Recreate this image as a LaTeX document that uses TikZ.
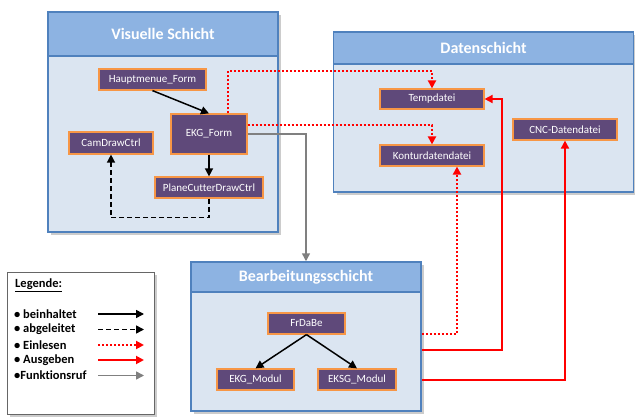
\documentclass[tikz,border=0pt]{standalone}
\usepackage{fontspec}
\setmainfont{Carlito}[Ligatures=NoCommon]
\usetikzlibrary{arrows.meta,shadows,calc}
\definecolor{hdr}{HTML}{8DB3E2}
\definecolor{bodyc}{HTML}{DBE5F1}
\definecolor{brd}{HTML}{4F81BD}
\definecolor{purp}{HTML}{5F497A}
\definecolor{orng}{HTML}{F79646}
\definecolor{redc}{HTML}{FF0000}
\definecolor{grayc}{HTML}{808080}
\tikzset{
  layer/.style={draw=brd, line width=1.5pt, fill=bodyc, inner sep=0pt,
    drop shadow={shadow xshift=3pt, shadow yshift=-3pt, fill=black!40, opacity=0.5}},
  header/.style={draw=brd, line width=1.5pt, fill=hdr, inner sep=0pt, text=white,
    font=\fontsize{16}{18}\selectfont\bfseries},
  comp/.style={draw=orng, line width=1.2pt, fill=purp, text=white, inner sep=0pt,
    font=\fontsize{11}{13}\selectfont},
  tip/.style={-{Triangle[length=8pt,width=8pt]}},
  contains/.style={tip, line width=1.5pt, black},
  derived/.style={tip, line width=1.5pt, black, dash pattern=on 5pt off 3pt},
  readin/.style={tip, line width=2pt, redc, dash pattern=on 2pt off 2pt},
  output/.style={tip, line width=1.8pt, redc},
  call/.style={tip, line width=1.5pt, grayc},
  legtext/.style={anchor=west, font=\fontsize{12.5}{14}\selectfont\bfseries, inner sep=0pt},
}
\begin{document}
\begin{tikzpicture}[x=1pt,y=-1pt]
\useasboundingbox (0,0) rectangle (635,417);
% Layers
\node[layer, minimum width=230pt, minimum height=220pt] (vis) at (163,122) {};
\node[header, minimum width=230pt, minimum height=44pt] (vish) at (163,34) {Visuelle Schicht};
\node[layer, minimum width=300pt, minimum height=160pt] (dat) at (483.5,112) {};
\node[header, minimum width=300pt, minimum height=32pt] (dath) at (483.5,48) {Datenschicht};
\node[layer, minimum width=230pt, minimum height=149pt] (bearb) at (306,336.5) {};
\node[header, minimum width=230pt, minimum height=30pt] (bearbh) at (306,277) {Bearbeitungsschicht};
% Legend
\node[draw=black!60, line width=1pt, fill=white, minimum width=147pt, minimum height=142pt, inner sep=0pt,
  drop shadow={shadow xshift=3pt, shadow yshift=-3pt, fill=black!40, opacity=0.5}] (leg) at (80.5,343) {};
% Components
\node[comp, minimum width=107pt, minimum height=21pt] (haupt) at (152.5,79.5) {Hauptmenue\_Form};
\node[comp, minimum width=76pt, minimum height=40pt] (ekg) at (209,134) {EKG\_Form};
\node[comp, minimum width=84pt, minimum height=22pt] (cam) at (111,143) {CamDrawCtrl};
\node[comp, minimum width=108pt, minimum height=21pt] (plane) at (209,187.5) {PlaneCutterDrawCtrl};
\node[comp, minimum width=104pt, minimum height=20pt] (temp) at (432,99) {Tempdatei};
\node[comp, minimum width=104pt, minimum height=21pt] (kontur) at (432,155.5) {Konturdatendatei};
\node[comp, minimum width=104pt, minimum height=21pt] (cnc) at (565,129.5) {CNC-Datendatei};
\node[comp, minimum width=77pt, minimum height=21pt] (frdabe) at (306.5,323.5) {FrDaBe};
\node[comp, minimum width=77pt, minimum height=21pt] (ekgm) at (255.5,379.5) {EKG\_Modul};
\node[comp, minimum width=78pt, minimum height=21pt] (eksgm) at (357,379.5) {EKSG\_Modul};
% Connectors
\draw[contains] (haupt.south) -- (ekg.north);
\draw[contains] (ekg.south) -- (plane.north);
\draw[derived] (plane.south) -- ++(0,19) -| (cam.south);
\draw[readin] ([xshift=19pt]ekg.north) |- ([yshift=17pt]temp.north) -- (temp.north);
\draw[readin] ([yshift=9pt]ekg.east) -| (kontur.north);
\draw[call] (ekg.east) -| (bearb.north);
\draw[contains] (frdabe.south) -- (ekgm.north);
\draw[contains] (frdabe.south) -- (eksgm.north);
\draw[readin] ([yshift=2.5pt]bearb.east) -| ([xshift=25pt]kontur.south);
\draw[output] ([yshift=-13.5pt]bearb.east) -| ([xshift=17pt]temp.east) -- (temp.east);
\draw[output] ([yshift=-43.5pt]bearb.east) -| (cnc.south);
% Legend content
\node[legtext] (legt) at (15,285) {\underline{Legende:}};
\node[legtext] (l1) at (14,314) {• beinhaltet};
\node[legtext] (l2) at (14,329.5) {• abgeleitet};
\node[legtext] (l3) at (14,345) {• Einlesen};
\node[legtext] (l4) at (14,360) {• Ausgeben};
\node[legtext] (l5) at (14,375.5) {•Funktionsruf};
\coordinate (a1s) at (98,314); \coordinate (a1e) at (144,314);
\coordinate (a2s) at (98,329.5); \coordinate (a2e) at (144,329.5);
\coordinate (a3s) at (98,345); \coordinate (a3e) at (144,345);
\coordinate (a4s) at (98,360); \coordinate (a4e) at (144,360);
\coordinate (a5s) at (98,375.5); \coordinate (a5e) at (144,375.5);
\draw[contains] (a1s) -- (a1e);
\draw[derived] (a2s) -- (a2e);
\draw[readin] (a3s) -- (a3e);
\draw[output] (a4s) -- (a4e);
\draw[call] (a5s) -- (a5e);
\end{tikzpicture}
\end{document}
